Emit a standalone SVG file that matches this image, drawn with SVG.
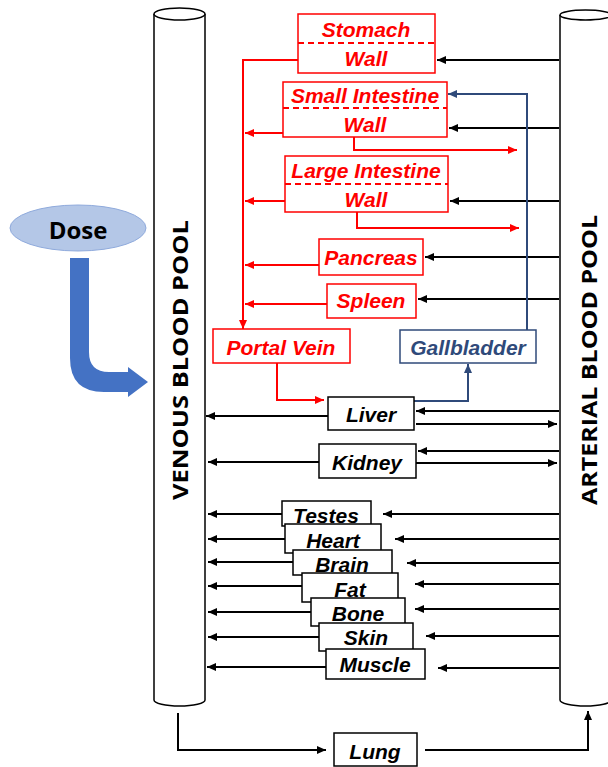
<svg xmlns="http://www.w3.org/2000/svg" width="608" height="767" viewBox="0 0 608 767">
<style>
.cyl{fill:#fff;stroke:#000;stroke-width:1.5}
.pool{font-family:"Open Sans","Liberation Sans",sans-serif;font-weight:bold;font-size:21px;fill:#000}
.lbl{font-family:"Liberation Sans",Arial,sans-serif;font-weight:bold;font-style:italic;font-size:21px;text-anchor:middle;dominant-baseline:central}
.rbox{fill:#fff;stroke:#f00;stroke-width:1.5}
.rtx{fill:#f00}
.bbox{fill:#fff;stroke:#000;stroke-width:1.5}
.btx{fill:#000}
.nbox{fill:#fff;stroke:#2F4A7A;stroke-width:1.5}
.ntx{fill:#2F4A7A}
.dash{stroke:#f00;stroke-width:2;stroke-dasharray:6,4}
.k{stroke:#000;stroke-width:2;fill:none;marker-end:url(#ak)}
.r{stroke:#f00;stroke-width:2;fill:none;marker-end:url(#ar)}
.n{stroke:#2F4A7A;stroke-width:2;fill:none;marker-end:url(#an)}
</style>
<defs>
<marker id="ak" markerUnits="userSpaceOnUse" markerWidth="10" markerHeight="10" refX="9" refY="5" orient="auto"><path d="M0,1 L9,5 L0,9 Z" fill="#000"/></marker>
<marker id="ar" markerUnits="userSpaceOnUse" markerWidth="10" markerHeight="10" refX="9" refY="5" orient="auto"><path d="M0,1 L9,5 L0,9 Z" fill="#f00"/></marker>
<marker id="an" markerUnits="userSpaceOnUse" markerWidth="10" markerHeight="10" refX="9" refY="5" orient="auto"><path d="M0,1 L9,5 L0,9 Z" fill="#2F4A7A"/></marker>
</defs>
<rect width="608" height="767" fill="#fff"/>

<g id="venous">
<path class="cyl" d="M154,14 L154,700 A25.5,6 0 0 0 205,700 L205,14"/>
<ellipse class="cyl" cx="179.5" cy="14" rx="25.5" ry="6"/>
<text class="pool" transform="translate(188,360) rotate(-90)" text-anchor="middle" textLength="280" lengthAdjust="spacingAndGlyphs">VENOUS BLOOD POOL</text>
</g>
<g id="arterial">
<path class="cyl" d="M560,15 L560,700 A25.5,6 0 0 0 611,700 L611,15"/>
<ellipse class="cyl" cx="585.5" cy="15" rx="25.5" ry="5"/>
<text class="pool" transform="translate(597,360) rotate(-90)" text-anchor="middle" textLength="290" lengthAdjust="spacingAndGlyphs">ARTERIAL BLOOD POOL</text>
</g>

<g id="dose">
<ellipse cx="78" cy="228" rx="68" ry="23" fill="#B4C7E7" stroke="#8FAADC" stroke-width="1"/>
<text x="78" y="229" font-family="Open Sans,Liberation Sans,sans-serif" font-weight="bold" font-size="24" text-anchor="middle" dominant-baseline="central">Dose</text>
<path d="M70,258 L89,258 L89,352 Q89,372 109,372 L128,372 L128,367 L148,382 L128,397 L128,392 L104,392 Q70,392 70,358 Z" fill="#4472C4"/>
</g>

<g id="connectors">
<path class="r" d="M298,60 L243,60 L243,329"/>
<path class="r" d="M283,133 L245,133"/>
<path class="r" d="M285,201 L245,201"/>
<path class="r" d="M319,265 L245,265"/>
<path class="r" d="M327,304 L245,304"/>
<path class="r" d="M354,137 L354,150 L517,150"/>
<path class="r" d="M357,212 L357,228 L519,228"/>
<path class="r" d="M277,363 L277,400 L324,400"/>
<path class="k" d="M559,60 L437,60"/>
<path class="k" d="M559,128 L449,128"/>
<path class="k" d="M559,201 L450,201"/>
<path class="k" d="M559,257 L425,257"/>
<path class="k" d="M559,299 L418,299"/>
<path class="n" d="M527,330 L527,94 L448,94"/>
<path class="n" d="M414,401 L468,401 L468,364"/>
<path class="k" d="M328,416 L206,416"/>
<path class="k" d="M559,411 L416,411"/>
<path class="k" d="M416,424 L557,424"/>
<path class="k" d="M319,462 L208,462"/>
<path class="k" d="M559,451 L418,451"/>
<path class="k" d="M416,463 L557,463"/>
<path class="k" d="M282,514 L208,514"/>
<path class="k" d="M285,539 L208,539"/>
<path class="k" d="M293,562 L208,562"/>
<path class="k" d="M302,586 L208,586"/>
<path class="k" d="M311,612 L208,612"/>
<path class="k" d="M319,637 L208,637"/>
<path class="k" d="M326,667 L207,667"/>
<path class="k" d="M559,514 L383,514"/>
<path class="k" d="M559,539 L395,539"/>
<path class="k" d="M559,563 L407,563"/>
<path class="k" d="M559,584 L415,584"/>
<path class="k" d="M559,609 L415,609"/>
<path class="k" d="M559,636 L426,636"/>
<path class="k" d="M559,668 L438,668"/>
<path class="k" d="M178,713 L178,750 L326,750"/>
<path class="k" d="M425,750 L588,750 L588,711"/>
</g>

<g id="stomach">
<rect class="rbox" x="298" y="14" width="137" height="59"/>
<line class="dash" x1="298" y1="43" x2="435" y2="43"/>
<text class="lbl rtx" x="366" y="29">Stomach</text>
<text class="lbl rtx" x="366" y="58">Wall</text>
</g>
<g id="small-intestine">
<rect class="rbox" x="283" y="82" width="164" height="55"/>
<line class="dash" x1="283" y1="108" x2="447" y2="108"/>
<text class="lbl rtx" x="365" y="95">Small Intestine</text>
<text class="lbl rtx" x="365" y="124">Wall</text>
</g>
<g id="large-intestine">
<rect class="rbox" x="285" y="156" width="163" height="56"/>
<line class="dash" x1="285" y1="184" x2="448" y2="184"/>
<text class="lbl rtx" x="366" y="170">Large Intestine</text>
<text class="lbl rtx" x="366" y="199">Wall</text>
</g>
<g id="pancreas">
<rect class="rbox" x="319" y="239" width="104" height="36"/>
<text class="lbl rtx" x="371" y="257">Pancreas</text>
</g>
<g id="spleen">
<rect class="rbox" x="327" y="284" width="89" height="34"/>
<text class="lbl rtx" x="371" y="300">Spleen</text>
</g>
<g id="portal-vein">
<rect class="rbox" x="213" y="329" width="137" height="34"/>
<text class="lbl rtx" x="281" y="347">Portal Vein</text>
</g>
<g id="gallbladder">
<rect class="nbox" x="400" y="330" width="136" height="33"/>
<text class="lbl ntx" x="468" y="347">Gallbladder</text>
</g>
<g id="liver">
<rect class="bbox" x="328" y="397" width="86" height="33"/>
<text class="lbl btx" x="371" y="414">Liver</text>
</g>
<g id="kidney">
<rect class="bbox" x="319" y="444" width="97" height="34"/>
<text class="lbl btx" x="367" y="462">Kidney</text>
</g>
<g id="testes">
<rect class="bbox" x="282" y="501" width="89" height="25"/>
<text class="lbl btx" x="326" y="515">Testes</text>
</g>
<g id="heart">
<rect class="bbox" x="285" y="524" width="96" height="29"/>
<text class="lbl btx" x="333" y="540">Heart</text>
</g>
<g id="brain">
<rect class="bbox" x="293" y="550" width="99" height="25"/>
<text class="lbl btx" x="342" y="564">Brain</text>
</g>
<g id="fat">
<rect class="bbox" x="302" y="573" width="96" height="29"/>
<text class="lbl btx" x="350" y="589">Fat</text>
</g>
<g id="bone">
<rect class="bbox" x="311" y="598" width="94" height="28"/>
<text class="lbl btx" x="358" y="613">Bone</text>
</g>
<g id="skin">
<rect class="bbox" x="319" y="623" width="94" height="28"/>
<text class="lbl btx" x="366" y="637">Skin</text>
</g>
<g id="muscle">
<rect class="bbox" x="326" y="649" width="99" height="30"/>
<text class="lbl btx" x="375" y="664">Muscle</text>
</g>
<g id="lung">
<rect class="bbox" x="334" y="733" width="83" height="33"/>
<text class="lbl btx" x="375" y="751">Lung</text>
</g>
</svg>
